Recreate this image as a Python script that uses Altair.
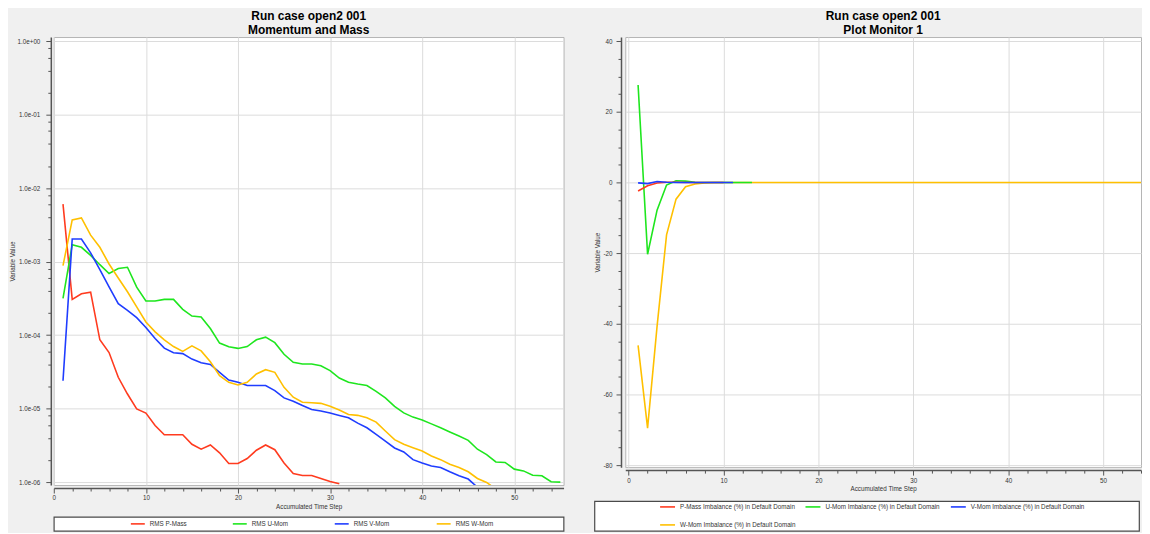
import altair as alt
import pandas as pd

FONT = "Liberation Sans"

LEFT_TITLE = ["Run case open2 001", "Momentum and Mass"]
RIGHT_TITLE = ["Run case open2 001", "Plot Monitor 1"]
X_TITLE = "Accumulated Time Step"
Y_TITLE = "Variable Value"

RMS_NAMES = ["RMS P-Mass", "RMS U-Mom", "RMS V-Mom", "RMS W-Mom"]
IMB_NAMES = [
    "P-Mass Imbalance (%) in Default Domain",
    "U-Mom Imbalance (%) in Default Domain",
    "V-Mom Imbalance (%) in Default Domain",
    "W-Mom Imbalance (%) in Default Domain",
]
COLORS = ["#ff3b1f", "#1ee61e", "#1f3dff", "#ffc000"]

# ---- left panel: RMS residuals (log scale), steps 1..n ----
RMS_P_MASS = [6.07e-3, 3.07e-4, 3.66e-4, 3.85e-4, 8.65e-5, 5.8e-5, 2.67e-5, 1.58e-5, 9.9e-6, 8.7e-6,
              5.9e-6, 4.4e-6, 4.4e-6, 4.4e-6, 3.27e-6, 2.8e-6, 3.2e-6, 2.5e-6, 1.79e-6, 1.79e-6,
              2.09e-6, 2.71e-6, 3.2e-6, 2.76e-6, 1.82e-6, 1.31e-6, 1.23e-6, 1.23e-6, 1.12e-6, 1.02e-6,
              9.5e-7]
RMS_U_MOM = [3.16e-4, 1.7e-3, 1.57e-3, 1.22e-3, 9.1e-4, 6.9e-4, 8.06e-4, 8.4e-4, 4.5e-4, 2.92e-4,
             2.92e-4, 3.07e-4, 3.07e-4, 2.25e-4, 1.82e-4, 1.77e-4, 1.23e-4, 7.8e-5, 6.95e-5, 6.6e-5,
             7.0e-5, 8.65e-5, 9.4e-5, 7.9e-5, 5.5e-5, 4.26e-5, 4.04e-5, 4.04e-5, 3.84e-5, 3.29e-5,
             2.61e-5, 2.28e-5, 2.16e-5, 2.06e-5, 1.72e-5, 1.4e-5, 1.07e-5, 8.75e-6, 7.66e-6, 7.0e-6,
             6.2e-6, 5.48e-6, 4.8e-6, 4.23e-6, 3.7e-6, 2.8e-6, 2.37e-6, 1.88e-6, 1.85e-6, 1.5e-6,
             1.42e-6, 1.24e-6, 1.22e-6, 1.01e-6, 1.0e-6]
RMS_V_MOM = [2.4e-5, 2.04e-3, 2.04e-3, 1.32e-3, 7.8e-4, 4.55e-4, 2.68e-4, 2.18e-4, 1.73e-4, 1.27e-4,
             9.0e-5, 6.65e-5, 5.75e-5, 5.6e-5, 4.72e-5, 4.2e-5, 4.0e-5, 3.12e-5, 2.45e-5, 2.28e-5,
             2.06e-5, 2.06e-5, 2.06e-5, 1.76e-5, 1.4e-5, 1.26e-5, 1.1e-5, 9.7e-6, 9.3e-6, 8.7e-6,
             8.07e-6, 7.5e-6, 6.35e-6, 5.48e-6, 4.47e-6, 3.62e-6, 2.91e-6, 2.57e-6, 2.02e-6, 1.82e-6,
             1.66e-6, 1.58e-6, 1.38e-6, 1.22e-6, 1.1e-6, 8.5e-7]
RMS_W_MOM = [8.85e-4, 3.7e-3, 3.95e-3, 2.3e-3, 1.57e-3, 9.3e-4, 6.0e-4, 3.9e-4, 2.42e-4, 1.51e-4,
             1.11e-4, 8.65e-5, 7.0e-5, 6.0e-5, 7.16e-5, 6.1e-5, 4.35e-5, 2.81e-5, 2.28e-5, 2.1e-5,
             2.28e-5, 2.96e-5, 3.39e-5, 3.12e-5, 1.95e-5, 1.43e-5, 1.22e-5, 1.2e-5, 1.18e-5, 1.08e-5,
             9.6e-6, 8.3e-6, 8.1e-6, 7.5e-6, 6.55e-6, 4.95e-6, 3.78e-6, 3.27e-6, 2.94e-6, 2.65e-6,
             2.27e-6, 2.02e-6, 1.75e-6, 1.58e-6, 1.38e-6, 1.12e-6, 9.9e-7, 8.0e-7]

# ---- right panel: imbalances (%), steps 1..n ----
IMB_P_MASS = [-2.4, -0.9, -0.1, 0.1, 0.1, 0.0, 0.0, 0.0, 0.0, 0.0]
IMB_U_MOM = [27.6, -20.3, -7.8, -0.7, 0.5, 0.4, 0.05, 0.0, 0.0, 0.0, 0.0, 0.0, 0.0]
IMB_V_MOM = [-0.1, -0.3, 0.3, 0.1, 0.0, 0.0, 0.0, 0.0, 0.0, 0.0, 0.0]
IMB_W_MOM = [-46.1, -69.5, -40.7, -14.8, -4.7, -1.2, -0.4, -0.1] + [0.0] * 47


def long_table(names, series):
    rows = []
    for name, vals in zip(names, series):
        for i, v in enumerate(vals):
            rows.append({"step": i + 1, "value": v, "series": name})
    return pd.DataFrame(rows)


left_df = long_table(RMS_NAMES, [RMS_P_MASS, RMS_U_MOM, RMS_V_MOM, RMS_W_MOM])
right_df = long_table(IMB_NAMES, [IMB_P_MASS, IMB_U_MOM, IMB_V_MOM, IMB_W_MOM])

VIEW = alt.ViewBackground(fill="white", stroke="#b4b4b4", strokeWidth=1)
BOX = alt.ViewBackground(fill="white", stroke="#4a4a4a", strokeWidth=1.2)
NOVIEW = alt.ViewBackground(stroke="transparent")


def title(lines):
    return alt.TitleParams(text=lines, font=FONT, fontSize=12, fontWeight="bold", color="#000000",
                           anchor="middle", frame="group", lineHeight=14, offset=0)


# ---------- left plot ----------
DEC = "abs(log(datum.value)/LN10 - round(log(datum.value)/LN10)) < 0.01"
EXP = "round(log(datum.value)/LN10)"
LOG_LABEL = f"({DEC}) ? '1.0e' + ({EXP} < 0 ? '-' : '+') + (abs({EXP}) < 10 ? '0' : '') + abs({EXP}) : ''"
YL_VALUES = []
for e in range(-6, 1):
    YL_VALUES.append(10.0 ** e)
    if e < 0:
        for m in (2, 4, 6, 8):
            YL_VALUES.append(m * 10.0 ** e)

X_MAJOR = "datum.value % 10 == 0"
X_VALUES = list(range(0, 56, 2))


def x_axis(offset):
    return alt.Axis(values=X_VALUES, title=X_TITLE, labelExpr=f"({X_MAJOR}) ? '' + datum.value : ''",
                    tickSize={"condition": {"test": X_MAJOR, "value": 5}, "value": 3},
                    gridOpacity={"condition": {"test": X_MAJOR, "value": 1}, "value": 0},
                    offset=offset, labelPadding=2, titlePadding=2, labelFlush=False, labelOverlap=False)


left_plot = alt.Chart(left_df).mark_line(clip=True, strokeWidth=1.6).encode(
    x=alt.X("step:Q", scale=alt.Scale(domain=[0, 55.35], nice=False, zero=False), axis=x_axis(3)),
    y=alt.Y("value:Q", scale=alt.Scale(type="log", domain=[9.11e-7, 1.143], nice=False),
            axis=alt.Axis(values=YL_VALUES, labelExpr=LOG_LABEL, title=Y_TITLE,
                          tickSize={"condition": {"test": DEC, "value": 5}, "value": 3},
                          gridOpacity={"condition": {"test": DEC, "value": 1}, "value": 0},
                          offset=3, labelPadding=6, titlePadding=2, labelOverlap=False, labelFlush=False)),
    color=alt.Color("series:N", scale=alt.Scale(domain=RMS_NAMES, range=COLORS), legend=None),
).properties(width=512, height=450, title=title(LEFT_TITLE), view=VIEW)

# ---------- right plot (y axis drawn in its own narrow strip) ----------
YR_MAJOR = "datum.value % 20 == 0"
YR_VALUES = list(range(-80, 41, 5))
YR_SCALE = alt.Scale(domain=[-80.56, 41.2], nice=False, zero=False)
RIGHT_H = 432

right_axis = alt.Chart(right_df).mark_point(opacity=0).encode(
    y=alt.Y("value:Q", scale=YR_SCALE,
            axis=alt.Axis(values=YR_VALUES, title=Y_TITLE, labelExpr=f"({YR_MAJOR}) ? '' + datum.value : ''",
                          tickSize={"condition": {"test": YR_MAJOR, "value": 5}, "value": 3},
                          grid=False, offset=-26.7, labelPadding=4, titlePadding=2,
                          labelOverlap=False, labelFlush=False)),
).properties(width=29, height=RIGHT_H, view=NOVIEW)

right_base = alt.Chart(right_df).mark_line(clip=True, strokeWidth=1.6).encode(
    x=alt.X("step:Q", scale=alt.Scale(domain=[-0.35, 54.0], nice=False, zero=False), axis=x_axis(3)),
    y=alt.Y("value:Q", scale=YR_SCALE,
            axis=alt.Axis(values=YR_VALUES, title=None, labels=False, ticks=False, domain=False,
                          gridOpacity={"condition": {"test": YR_MAJOR, "value": 1}, "value": 0})),
    color=alt.Color("series:N", scale=alt.Scale(domain=IMB_NAMES, range=COLORS), legend=None),
)
DRAW_ORDER = [IMB_NAMES[3], IMB_NAMES[1], IMB_NAMES[0], IMB_NAMES[2]]
right_plot = alt.layer(*[
    right_base.transform_filter(alt.datum.series == n) for n in DRAW_ORDER
]).properties(width=518, height=RIGHT_H, title=title(RIGHT_TITLE), view=VIEW)


# ---------- legends ----------
def legend_chart(names, cols, rows, width, height, xpad, ypad, sw0, sw1, tx):
    df = pd.DataFrame({"name": names, "col": cols, "row": rows})
    base = alt.Chart(df).encode(
        x=alt.X("col:O", scale=alt.Scale(type="point", padding=xpad), axis=None),
        y=alt.Y("row:O", scale=alt.Scale(type="point", padding=ypad), axis=None),
    )
    sw = base.mark_rule(strokeWidth=1.6, xOffset=sw0, x2Offset=sw1).encode(
        x2="col:O",
        color=alt.Color("name:N", scale=alt.Scale(domain=names, range=COLORS), legend=None),
    )
    tx_ = base.mark_text(align="left", baseline="middle", dx=tx, font=FONT, fontSize=6.3,
                         color="#333333").encode(text="name:N")
    return alt.layer(sw, tx_).properties(width=width, height=height, view=BOX)


left_legend = legend_chart(RMS_NAMES, [0, 1, 2, 3], [0, 0, 0, 0], 512, 14, 2.5, 0.5, -25, -11, -6)
right_legend = legend_chart(IMB_NAMES, [0, 1, 2, 0], [0, 0, 0, 1], 547, 30, 0.873, 0.33, -61.5, -46.5, -41.5)

left_panel = alt.vconcat(left_plot, left_legend, spacing=32, bounds="flush").resolve_scale(color="independent")
right_top = alt.hconcat(right_axis, right_plot, spacing=0).resolve_scale(color="independent")
right_panel = alt.vconcat(right_top, right_legend, spacing=7).resolve_scale(color="independent")

AXIS_CFG = alt.AxisConfig(
    domainColor="#555555", domainWidth=1.5, tickColor="#555555", tickWidth=1,
    gridColor="#dcdcdc", gridWidth=1,
    labelFont=FONT, labelFontSize=6.3, labelColor="#333333",
    titleFont=FONT, titleFontSize=6.3, titleFontWeight="normal", titleColor="#333333",
)

chart = alt.hconcat(left_panel, right_panel, spacing=29).resolve_scale(
    color="independent"
).properties(background="#f0f0f0", padding=0).configure(font=FONT, axis=AXIS_CFG)

chart.save("out.html", embed_options={"renderer": "svg", "actions": False})
